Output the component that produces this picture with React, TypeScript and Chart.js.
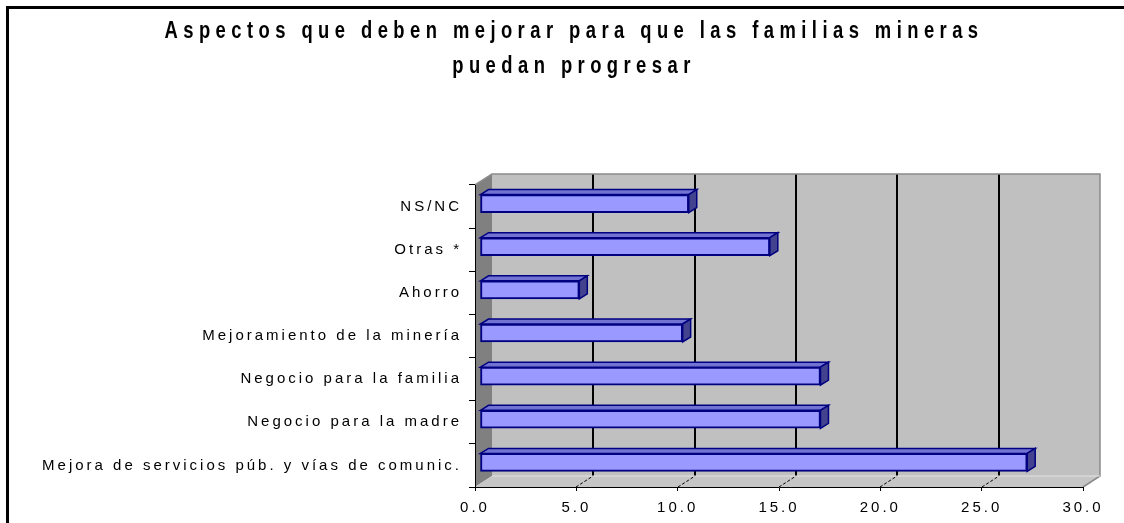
import React, { useEffect, useRef } from "react";
import { Chart, registerables } from "chart.js";

Chart.register(...registerables);

// ---- data ----
const TITLE_LINES = [
  "Aspectos que deben mejorar para que las familias mineras",
  "puedan progresar",
];
const CATEGORIES = [
  "NS/NC",
  "Otras *",
  "Ahorro",
  "Mejoramiento de la minería",
  "Negocio para la familia",
  "Negocio para la madre",
  "Mejora de servicios púb. y vías de comunic.",
];
const VALUES = [10.3, 14.3, 4.9, 10.0, 16.8, 16.8, 27.0];
const X_MIN = 0;
const X_MAX = 30;
const X_STEP = 5;

// ---- style / layout constants ----
const FONT = "'Liberation Sans', Arial, sans-serif";
const LETTER_SPACING = "3px";
const WALL_DX = 17;
const WALL_DY = -11;
const BAR_SHIFT_X = 5;
const BAR_SHIFT_Y = -3;
const BAR_DX = 8;
const BAR_DY = -5;

function poly(ctx: CanvasRenderingContext2D, pts: number[][]) {
  ctx.beginPath();
  ctx.moveTo(pts[0][0], pts[0][1]);
  for (let i = 1; i < pts.length; i++) ctx.lineTo(pts[i][0], pts[i][1]);
  ctx.closePath();
}

const excel3d = {
  id: "excel3d",
  beforeLayout(chart: any) {
    chart.ctx.letterSpacing = LETTER_SPACING;
  },
  beforeDraw(chart: any) {
    const ctx: CanvasRenderingContext2D = chart.ctx;
    ctx.letterSpacing = LETTER_SPACING;
    const a = chart.chartArea;
    const L = a.left, R = a.right, T = a.top, B = a.bottom;
    const dx = WALL_DX, dy = WALL_DY;

    ctx.save();
    // outer frame
    ctx.strokeStyle = "#000";
    ctx.lineWidth = 3;
    ctx.beginPath();
    ctx.moveTo(7.5, chart.height);
    ctx.lineTo(7.5, 7.5);
    ctx.lineTo(chart.width, 7.5);
    ctx.stroke();

    // title
    ctx.font = `bold 23px ${FONT}`;
    ctx.fillStyle = "#000";
    ctx.textAlign = "center";
    ctx.textBaseline = "alphabetic";
    (ctx as any).letterSpacing = "6.8px";
    const baselines = [38, 73];
    TITLE_LINES.forEach((line, i) => {
      ctx.save();
      ctx.translate(574, baselines[i]);
      ctx.scale(0.8, 1);
      ctx.fillText(line, 0, 0);
      ctx.restore();
    });

    // back wall
    ctx.fillStyle = "#c0c0c0";
    ctx.fillRect(L + dx, T + dy, R - L, B - T);
    // side wall
    ctx.fillStyle = "#808080";
    poly(ctx, [[L, T], [L + dx, T + dy], [L + dx, B + dy], [L, B]]);
    ctx.fill();
    // floor
    ctx.fillStyle = "#c6c6c6";
    poly(ctx, [[L, B], [L + dx, B + dy], [R + dx, B + dy], [R, B]]);
    ctx.fill();

    // gridlines on back wall + floor
    const xs = chart.scales.x;
    xs.ticks.forEach((t: any) => {
      if (t.value <= X_MIN || t.value >= X_MAX) return;
      const px = Math.round(xs.getPixelForValue(t.value));
      ctx.strokeStyle = "#000";
      ctx.lineWidth = 2;
      ctx.setLineDash([]);
      ctx.beginPath();
      ctx.moveTo(px + dx, T + dy);
      ctx.lineTo(px + dx, B + dy);
      ctx.stroke();
      ctx.lineWidth = 1;
      ctx.setLineDash([3, 2]);
      ctx.beginPath();
      ctx.moveTo(px, B);
      ctx.lineTo(px + dx, B + dy);
      ctx.stroke();
    });
    ctx.setLineDash([]);

    // wall edges
    ctx.strokeStyle = "#8a8a8a";
    ctx.lineWidth = 1.5;
    ctx.beginPath();
    ctx.moveTo(L, T);
    ctx.lineTo(L + dx, T + dy);
    ctx.lineTo(R + dx, T + dy);
    ctx.lineTo(R + dx, B + dy);
    ctx.lineTo(R, B);
    ctx.stroke();
    ctx.strokeStyle = "#e2e2e2";
    ctx.lineWidth = 1;
    ctx.beginPath();
    ctx.moveTo(L + dx, B + dy);
    ctx.lineTo(R + dx, B + dy);
    ctx.stroke();
    ctx.restore();
  },
  beforeDatasetsDraw(chart: any) {
    chart.ctx.save();
    chart.ctx.translate(BAR_SHIFT_X, BAR_SHIFT_Y);
  },
  afterDatasetsDraw(chart: any) {
    const ctx: CanvasRenderingContext2D = chart.ctx;
    const meta = chart.getDatasetMeta(0);
    meta.data.forEach((el: any) => {
      const { x, y, base, height } = el.getProps(["x", "y", "base", "height"], true);
      const top = y - height / 2;
      const bot = y + height / 2;
      ctx.lineWidth = 1.5;
      ctx.strokeStyle = "#000080";
      ctx.lineJoin = "miter";
      // top face
      ctx.fillStyle = "#7272d2";
      poly(ctx, [[base, top], [base + BAR_DX, top + BAR_DY], [x + BAR_DX, top + BAR_DY], [x, top]]);
      ctx.fill();
      ctx.stroke();
      // side face
      ctx.fillStyle = "#42428e";
      poly(ctx, [[x, top], [x + BAR_DX, top + BAR_DY], [x + BAR_DX, bot + BAR_DY], [x, bot]]);
      ctx.fill();
      ctx.stroke();
    });
    ctx.restore();
  },
};

export default function App() {
  const ref = useRef<HTMLCanvasElement>(null);

  useEffect(() => {
    if (!ref.current) return;
    const chart = new Chart(ref.current, {
      type: "bar",
      data: {
        labels: CATEGORIES,
        datasets: [
          {
            data: VALUES,
            backgroundColor: "#9999ff",
            borderColor: "#000080",
            borderWidth: 2,
            borderSkipped: false,
            barThickness: 18,
          },
        ],
      },
      options: {
        indexAxis: "y",
        animation: false,
        responsive: true,
        maintainAspectRatio: false,
        layout: { padding: { top: 185, right: 41, bottom: 0, left: 0 } },
        plugins: {
          legend: { display: false },
          title: { display: false },
          tooltip: { enabled: false },
        },
        scales: {
          x: {
            type: "linear",
            min: X_MIN,
            max: X_MAX,
            afterFit: (s: any) => {
              s.height = 36;
            },
            ticks: {
              stepSize: X_STEP,
              color: "#000",
              padding: 8,
              maxRotation: 0,
              font: { family: FONT, size: 15 },
              callback: (v: any) => Number(v).toFixed(1),
            },
            grid: {
              drawOnChartArea: false,
              drawTicks: true,
              tickLength: 4,
              color: "#000",
            },
            border: { display: true, color: "#000", width: 1 },
          },
          y: {
            type: "category",
            afterFit: (s: any) => {
              s.width = 475;
            },
            ticks: {
              color: "#000",
              padding: 7,
              font: { family: FONT, size: 15 },
            },
            grid: {
              offset: true,
              drawOnChartArea: false,
              drawTicks: true,
              tickLength: 6,
              color: "#000",
            },
            border: { display: true, color: "#000", width: 1 },
          },
        },
      },
      plugins: [excel3d],
    });
    return () => chart.destroy();
  }, []);

  return (
    <div style={{ position: "absolute", left: 0, top: 0, width: 1124, height: 523, background: "#fff" }}>
      <canvas ref={ref} />
    </div>
  );
}
